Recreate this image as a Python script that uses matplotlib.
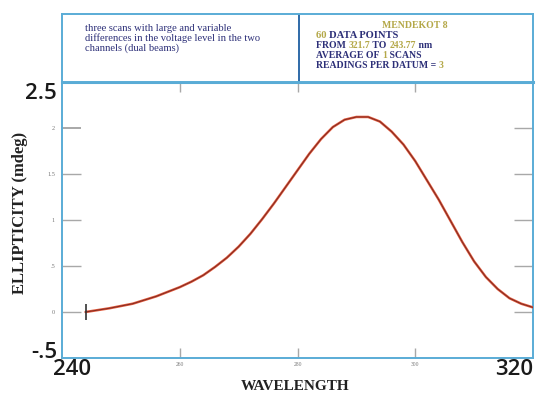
import matplotlib
matplotlib.use("Agg")
import matplotlib.pyplot as plt

# CD spectrum: wavelength (nm) vs ellipticity (mdeg)
wavelength = [244, 246, 248, 250, 252, 254, 256, 258, 260, 262, 264, 266, 268,
              270, 272, 274, 276, 278, 280, 282, 284, 286, 288, 290, 292, 294,
              296, 298, 300, 302, 304, 306, 308, 310, 312, 314, 316, 318, 320]
ellipticity = [0.00, 0.02, 0.04, 0.065, 0.09, 0.13, 0.17, 0.22, 0.27, 0.33, 0.40,
               0.49, 0.59, 0.71, 0.85, 1.01, 1.18, 1.36, 1.54, 1.72, 1.88, 2.01,
               2.09, 2.12, 2.12, 2.07, 1.96, 1.82, 1.64, 1.43, 1.22, 0.99, 0.76,
               0.55, 0.38, 0.25, 0.15, 0.09, 0.05]

y_ticks = [0, 0.5, 1, 1.5, 2]
y_tick_labels = ["0", ".5", "1", "1.5", "2"]
y_limits = [-0.5, 2.5]
y_limit_labels = ["-.5", "2.5"]
x_ticks = [260, 280, 300]
x_tick_labels = ["260", "280", "300"]
x_limits = [240, 320]
x_limit_labels = ["240", "320"]

note_lines = ["three scans with large and variable",
              "differences in the voltage level in the two",
              "channels (dual beams)"]
# each header line is a list of (text, colour) pieces
NAVY = "#2c2f78"
OLIVE = "#b4a848"
info_lines = [
    [("MENDEKOT 8", OLIVE)],
    [("60 ", OLIVE), ("DATA POINTS", NAVY)],
    [("FROM ", NAVY), ("321.7", OLIVE), (" TO ", NAVY), ("243.77", OLIVE), (" nm", NAVY)],
    [("AVERAGE OF ", NAVY), ("1", OLIVE), (" SCANS", NAVY)],
    [("READINGS PER DATUM = ", NAVY), ("3", OLIVE)],
]

FRAME = "#5aacd6"
TICK_GRAY = "#a8a8a8"
BIG_FONT = "Open Sans"
SERIF = "Liberation Serif"

fig = plt.figure(figsize=(5.43, 3.96), dpi=100)
fig.patch.set_facecolor("white")

ax = fig.add_axes([62 / 543, 1 - 358 / 396, 471 / 543, 276 / 396])
ax.set_xlim(x_limits[0], x_limits[1])
ax.set_ylim(y_limits[0], y_limits[1])

# spectrum trace: orange-red halo with a dark core
ax.plot(wavelength, ellipticity, color="#e25a3c", lw=1.8, solid_capstyle="round", zorder=3)
ax.plot(wavelength, ellipticity, color="#7e2a22", lw=0.7, zorder=4)
ax.plot(wavelength[0], ellipticity[0], marker="|", ms=11, mew=1.2, color="#333333", zorder=5)

for side, sp in ax.spines.items():
    sp.set_color(FRAME)
    sp.set_linewidth(1.4)
ax.spines["top"].set_linewidth(2.2)

# small inner ticks and faint labels
ax.set_yticks(y_ticks)
ax.set_yticklabels(y_tick_labels)
ax.set_xticks(x_ticks)
ax.set_xticklabels(x_tick_labels)
ax.tick_params(axis="y", direction="in", length=14, width=1.0,
               color=TICK_GRAY, right=True, labelsize=4.5, labelcolor="#777777", pad=5)
ax.tick_params(axis="x", direction="in", length=7, width=1.0,
               color=TICK_GRAY, top=True, labelsize=4, labelcolor="#777777", pad=3)
for lab in ax.get_yticklabels() + ax.get_xticklabels():
    lab.set_family(SERIF)
for val, tick in zip(y_ticks, ax.yaxis.get_major_ticks()):
    if val == 2:
        tick.tick1line.set_color("#3a98d2")
        tick.tick1line.set_markeredgewidth(1.4)

# large labels at the axis limits
big = dict(xycoords="data", textcoords="offset points", fontsize=16,
           family=BIG_FONT, weight="semibold", color="#1a1a1a")
ax.annotate(y_limit_labels[1], (x_limits[0], y_limits[1]), xytext=(-3.5, -8.5),
            ha="right", va="center", annotation_clip=False, **big)
ax.annotate(y_limit_labels[0], (x_limits[0], y_limits[0]), xytext=(-3.5, 4),
            ha="right", va="center", annotation_clip=False, **big)
ax.annotate(x_limit_labels[0], (x_limits[0], y_limits[0]), xytext=(7, -8),
            ha="center", va="center", annotation_clip=False, **big)
ax.annotate(x_limit_labels[1], (x_limits[1], y_limits[0]), xytext=(0, -8),
            ha="right", va="center", annotation_clip=False, **big)

ax.set_xlabel("WAVELENGTH", family=SERIF, weight="bold", fontsize=11, color="#222222")
ax.xaxis.set_label_coords(0.495, -0.08)
ax.set_ylabel("ELLIPTICITY (mdeg)", family=SERIF, weight="bold", fontsize=12,
              color="#222222")
ax.yaxis.set_label_coords(-0.072, 0.525)

# header box with run notes and acquisition info
hdr = fig.add_axes([62 / 543, 1 - 82 / 396, 471 / 543, 68 / 396])
hdr.set_xticks([])
hdr.set_yticks([])
hdr.set_xlim(0, 1)
hdr.set_ylim(0, 1)
for sp in hdr.spines.values():
    sp.set_color(FRAME)
    sp.set_linewidth(1.4)
hdr.axvline(0.503, color="#2f6aa8", lw=1.4)

for i, line in enumerate(note_lines):
    hdr.text(0.048, 0.78 - i * 0.142, line, family=SERIF, fontsize=7.6,
             color=NAVY, va="center", ha="left")

fig.canvas.draw()
renderer = fig.canvas.get_renderer()
for i, pieces in enumerate(info_lines):
    y = 0.838 - i * 0.15
    size = 7.6 if i == 1 else 7.0
    objs = []
    for txt, col in pieces:
        t = hdr.text(0, y, txt, family=SERIF, fontsize=size, weight="bold",
                     color=col, va="center", ha="left")
        objs.append(t)
    widths = [t.get_window_extent(renderer).width / hdr.bbox.width for t in objs]
    x = 0.68 if i == 0 else 0.54
    for t, w in zip(objs, widths):
        t.set_x(x)
        x += w

fig.savefig("out.png", dpi=100, facecolor="white")
